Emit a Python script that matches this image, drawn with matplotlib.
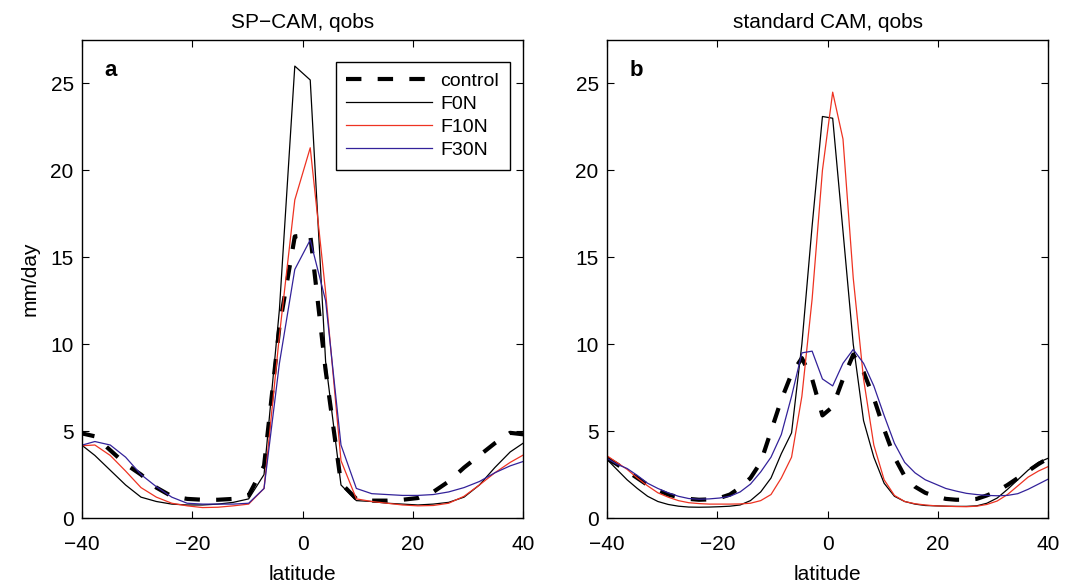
import numpy as np
import matplotlib
matplotlib.use('Agg')
import matplotlib.pyplot as plt

plt.rcParams['font.family'] = ['Liberation Sans', 'DejaVu Sans']

# SP-CAM latitudes (T42 grid)
latA = [-40.47, -37.67, -34.88, -32.09, -29.30, -26.51, -23.72, -20.93, -18.14, -15.35,
        -12.56, -9.77, -6.98, -4.19, -1.40, 1.40, 4.19, 6.98, 9.77, 12.56,
        15.35, 18.14, 20.93, 23.72, 26.51, 29.30, 32.09, 34.88, 37.67, 40.47]
ctrlA = [4.9, 4.7, 3.9, 3.1, 2.5, 1.75, 1.25, 1.1, 1.05, 1.05,
         1.1, 1.3, 3.0, 11.0, 16.2, 16.3, 8.5, 2.0, 1.1, 1.0,
         1.0, 1.05, 1.15, 1.5, 2.1, 2.9, 3.6, 4.3, 4.9, 4.8]
f0nA = [4.3, 3.6, 2.75, 1.9, 1.2, 0.95, 0.8, 0.75, 0.75, 0.8,
        0.9, 1.1, 2.5, 12.0, 26.0, 25.2, 9.0, 1.9, 1.0, 0.95,
        0.85, 0.8, 0.75, 0.8, 0.9, 1.2, 1.9, 2.9, 3.8, 4.4]
f10nA = [4.15, 4.2, 3.6, 2.7, 1.75, 1.2, 0.85, 0.7, 0.6, 0.62,
         0.7, 0.8, 1.7, 10.5, 18.3, 21.3, 13.0, 3.3, 1.1, 0.95,
         0.85, 0.75, 0.7, 0.72, 0.85, 1.25, 1.9, 2.6, 3.2, 3.7]
f30nA = [4.15, 4.4, 4.2, 3.5, 2.5, 1.8, 1.2, 0.85, 0.8, 0.8,
         0.8, 0.85, 1.7, 8.9, 14.3, 16.0, 12.5, 4.2, 1.7, 1.4,
         1.35, 1.3, 1.3, 1.35, 1.5, 1.75, 2.1, 2.6, 3.0, 3.3]

# standard CAM latitudes (T63 grid)
latB = [-40.10, -38.24, -36.37, -34.51, -32.64, -30.78, -28.91, -27.05, -25.18, -23.32, -21.45,
        -19.59, -17.72, -15.86, -13.99, -12.13, -10.26, -8.39, -6.53, -4.66, -2.80, -0.93,
        0.93, 2.80, 4.66, 6.53, 8.39, 10.26, 12.13, 13.99, 15.86, 17.72, 19.59,
        21.45, 23.32, 25.18, 27.05, 28.91, 30.78, 32.64, 34.51, 36.37, 38.24, 40.10]
ctrlB = [3.45, 3.1, 2.7, 2.3, 1.9, 1.6, 1.35, 1.2, 1.1, 1.05, 1.07,
         1.15, 1.35, 1.75, 2.3, 3.2, 5.0, 6.8, 8.3, 9.2, 8.0, 5.9,
         6.4, 8.0, 9.4, 8.4, 6.9, 5.1, 3.5, 2.4, 1.8, 1.45, 1.25,
         1.1, 1.05, 1.05, 1.1, 1.3, 1.55, 1.9, 2.3, 2.7, 3.1, 3.45]
f0nB = [3.4, 2.8, 2.2, 1.7, 1.25, 0.95, 0.78, 0.68, 0.63, 0.62, 0.63,
        0.65, 0.68, 0.75, 1.0, 1.5, 2.3, 3.7, 4.9, 10.0, 16.8, 23.1,
        23.0, 16.5, 10.0, 5.6, 3.5, 2.0, 1.25, 0.95, 0.8, 0.72, 0.7,
        0.68, 0.67, 0.67, 0.7, 0.85, 1.15, 1.65, 2.2, 2.75, 3.2, 3.45]
f10nB = [3.6, 3.2, 2.8, 2.3, 1.85, 1.45, 1.2, 1.0, 0.88, 0.83, 0.8,
         0.8, 0.8, 0.81, 0.85, 1.0, 1.35, 2.3, 3.5, 7.0, 12.6, 20.0,
         24.5, 21.8, 13.8, 8.0, 4.2, 2.2, 1.3, 0.95, 0.82, 0.75, 0.7,
         0.68, 0.66, 0.65, 0.68, 0.78, 0.98, 1.35, 1.85, 2.35, 2.7, 2.97]
f30nB = [3.45, 3.1, 2.85, 2.45, 2.0, 1.7, 1.45, 1.25, 1.12, 1.08, 1.1,
         1.15, 1.25, 1.5, 1.95, 2.65, 3.5, 4.8, 7.0, 9.5, 9.6, 8.0,
         7.6, 8.9, 9.7, 8.9, 7.6, 5.9, 4.3, 3.2, 2.6, 2.2, 1.95,
         1.7, 1.55, 1.42, 1.35, 1.3, 1.28, 1.3, 1.4, 1.65, 1.95, 2.25]

labels = ['control', 'F0N', 'F10N', 'F30N']
titles = ['SP\u2212CAM, qobs', 'standard CAM, qobs']
panels = ['a', 'b']
red = '#ee3322'
blue = '#33229a'

fig = plt.figure(figsize=(10.65, 5.84), dpi=100)
ax1 = fig.add_axes([0.0770, 0.1130, 0.4141, 0.8185])
ax2 = fig.add_axes([0.5700, 0.1130, 0.4141, 0.8185])

data = [(latA, ctrlA, f0nA, f10nA, f30nA), (latB, ctrlB, f0nB, f10nB, f30nB)]

for i, ax in enumerate([ax1, ax2]):
    lat, ctrl, f0, f10, f30 = data[i]
    ax.plot(lat, ctrl, color='black', lw=3, ls=(0, (3.7, 3.9)), label=labels[0])
    ax.plot(lat, f0, color='black', lw=0.9, label=labels[1])
    ax.plot(lat, f10, color=red, lw=0.9, label=labels[2])
    ax.plot(lat, f30, color=blue, lw=0.9, label=labels[3])
    ax.set_xlim(-40, 40)
    ax.set_ylim(0, 27.5)
    ax.set_xticks([-40, -20, 0, 20, 40])
    ax.set_yticks([0, 5, 10, 15, 20, 25])
    ax.set_xticklabels(['\u221240', '\u221220', '0', '20', '40'])
    ax.tick_params(direction='in', top=True, right=True, length=5, width=0.8,
                   labelsize=15)
    ax.tick_params(axis='y', pad=6)
    ax.tick_params(axis='x', pad=12)
    for s in ax.spines.values():
        s.set_linewidth(1.0)
    ax.set_title(titles[i], fontsize=15, pad=9)
    ax.set_xlabel('latitude', fontsize=15, labelpad=8)
    ax.text(0.05, 0.937, panels[i], transform=ax.transAxes, fontsize=16,
            fontweight='bold', va='center', ha='left')

ax1.set_ylabel('mm/day', fontsize=15, labelpad=8)

leg = ax1.legend(loc='upper right', bbox_to_anchor=(0.9705, 0.9546), borderaxespad=0,
                 fontsize=14, handlelength=4.4, handletextpad=0.45, labelspacing=0.28,
                 borderpad=0.55, fancybox=False, framealpha=1)
leg.get_frame().set_edgecolor('black')
leg.get_frame().set_linewidth(1.0)

plt.savefig('out.png', dpi=100)
